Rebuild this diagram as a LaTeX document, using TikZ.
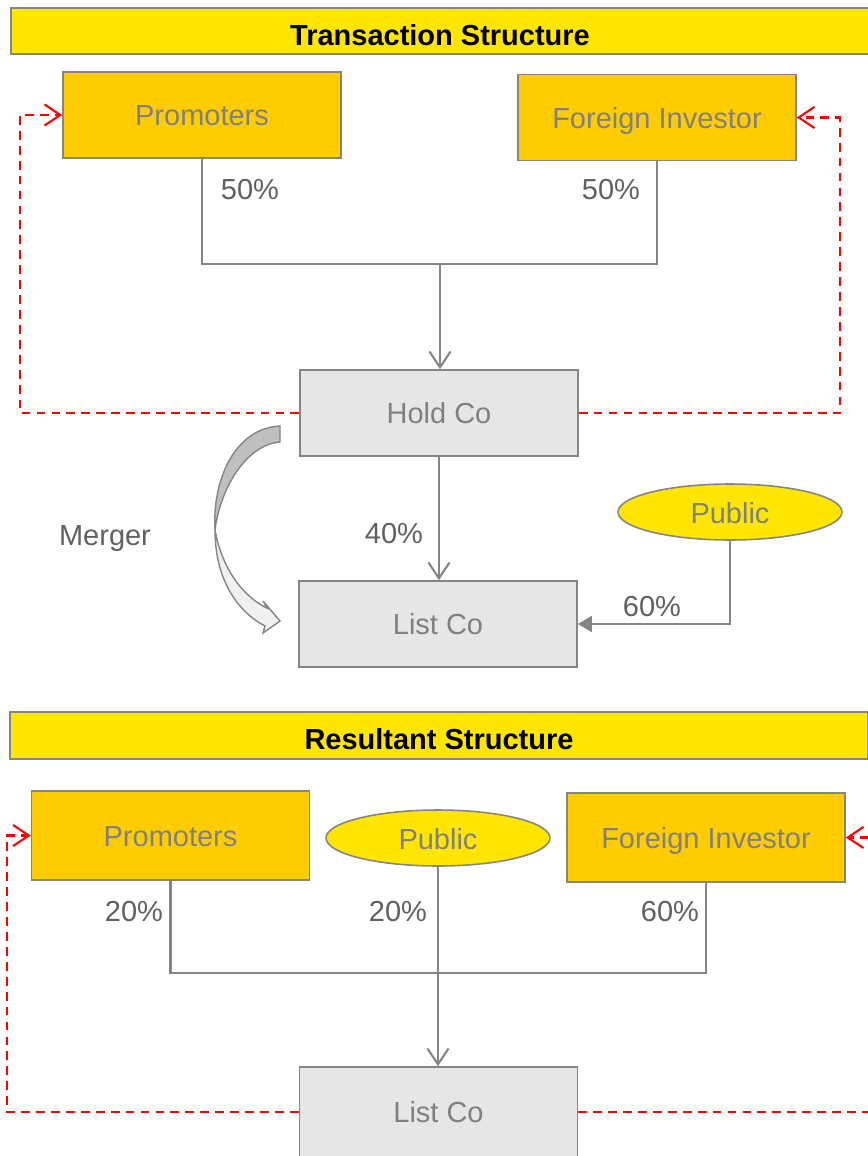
\documentclass[tikz,border=0pt]{standalone}
\usepackage{fontspec}
\setmainfont{Liberation Sans}
\usetikzlibrary{arrows.meta}
\usetikzlibrary{shapes}
\usetikzlibrary{positioning}
\usetikzlibrary{calc}
\definecolor{boxorange}{HTML}{FFCC00}
\definecolor{boxyellow}{HTML}{FFE600}
\definecolor{boxgrey}{HTML}{E6E6E6}
\definecolor{lineg}{HTML}{858585}
\definecolor{textg}{HTML}{808080}
\definecolor{labelg}{HTML}{606060}

\begin{document}
\begin{tikzpicture}[x=0.02cm,y=-0.02cm,font=\fontsize{16.5}{19}\selectfont,
	owner/.style={draw=lineg,line width=0.9pt,fill=boxorange,text=textg,text height=16.4pt,text depth=4pt,minimum width=5.56cm,minimum height=1.72cm},
	entity/.style={draw=lineg,line width=0.9pt,fill=boxgrey,text=textg,text height=16.4pt,text depth=4pt,minimum width=5.56cm,minimum height=1.72cm},
	crowd/.style={ellipse,draw=lineg,line width=0.9pt,fill=boxyellow,text=textg,text height=13pt,text depth=0pt,minimum width=4.48cm,minimum height=1.12cm},
	banner/.style={draw=lineg,line width=0.9pt,fill=boxyellow,font=\fontsize{16.5}{19}\selectfont\bfseries,text height=16pt,text depth=0pt,minimum width=17.16cm,minimum height=0.93cm},
	share/.style={text=labelg},
	link/.style={draw=lineg,line width=1.2pt},
	holding/.style={link,-{Straight Barb[length=9pt,width=12pt]}},
	inflow/.style={link,-{Triangle[length=8pt,width=9pt]}},
	control/.style={draw=red,line width=1.2pt,dash pattern=on 5pt off 3.5pt,-{Straight Barb[length=9pt,width=12pt]}}]
	\useasboundingbox (0,0) rectangle (867,1156);
	% transaction structure
	\node[banner](title1) at (440,31){Transaction Structure};
	\node[owner](prom1) at (202,115){Promoters};
	\node[owner](inv1) at (657,117.5){Foreign Investor};
	\node[entity](hold) at (439,413){Hold Co};
	\node[entity](list1) at (438,624){List Co};
	\node[crowd](pub1) at (730,512){Public};
	\node[share](s1) at (250,190){50\%};
	\node[share](s2) at (611,190){50\%};
	\node[share](s3) at (394,534){40\%};
	\node[share](s4) at (652,607){60\%};
	\node[share](merge) at (105,539){Merger};
	\coordinate (join1) at (440,264);
	\coordinate (lft1) at (20,413);
	\coordinate (rgt1) at (840,413);
	\draw[link] (prom1.south) |- (join1) -| (inv1.south);
	\draw[holding] (join1) -- (join1 |- hold.north);
	\draw[holding] (hold.south) -- (hold.south |- list1.north);
	\draw[inflow] (pub1.south) |- (list1.east);
	\draw[control] (hold.west) -- (lft1) |- (prom1.west);
	\draw[control] (hold.east) -- (rgt1) |- (inv1.east);
	\filldraw[draw=lineg,fill=gray!50,line width=0.8pt] (280,426) .. controls (235,428) and (212,480) .. (215,530) .. controls (220,490) and (245,445) .. (280,442) -- cycle;
	\filldraw[draw=lineg,fill=gray!12,line width=0.8pt] (215,530) .. controls (215,580) and (238,612) .. (265,626) -- (263,633) -- (280,621) -- (263,601) -- (267,608) .. controls (245,598) and (222,570) .. (215,530) -- cycle;
	% resultant structure
	\node[banner,minimum height=0.94cm](title2) at (439,735.5){Resultant Structure};
	\node[owner,minimum height=1.78cm](prom2) at (170.5,835.5){Promoters};
	\node[crowd](pub2) at (438,838){Public};
	\node[owner,minimum height=1.78cm](inv2) at (706,837.5){Foreign Investor};
	\node[entity,minimum height=1.8cm](list2) at (438.5,1112){List Co};
	\node[share](s5) at (134,912){20\%};
	\node[share](s6) at (398,912){20\%};
	\node[share](s7) at (670,912){60\%};
	\coordinate (join2) at (438,973);
	\coordinate (lft2) at (7,1112);
	\coordinate (rgt2) at (885,1112);
	\draw[link] (prom2.south) |- (join2) -| (inv2.south);
	\draw[holding] (pub2.south) -- (pub2.south |- list2.north);
	\draw[control] (list2.west) -- (lft2) |- (prom2.west);
	\draw[control] (list2.east) -- (rgt2) |- (inv2.east);
\end{tikzpicture}
\end{document}
